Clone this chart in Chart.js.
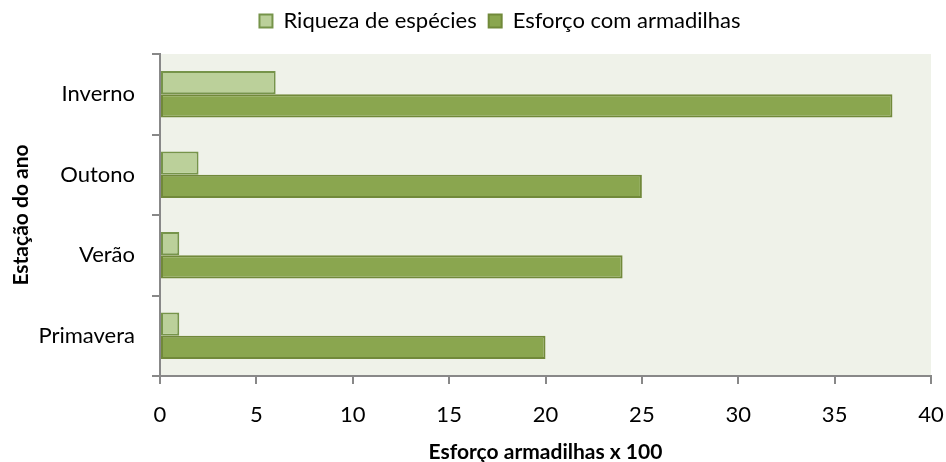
<!DOCTYPE html>
<html>
<head>
<meta charset="utf-8">
<script src="https://cdn.jsdelivr.net/npm/chart.js@4"></script>
<style>
  html, body { margin: 0; padding: 0; background: #fff; }
  #wrap { width: 946px; height: 462px; }
</style>
</head>
<body>
<div id="wrap"><canvas id="chart" width="946" height="462"></canvas></div>
<script>
// values
var estacoes = ['Inverno', 'Outono', 'Verão', 'Primavera'];
var riqueza = [6, 2, 1, 1];
var esforco = [38, 25, 24, 20];
var xTicks = [0, 5, 10, 15, 20, 25, 30, 35, 40];

var fontFam = "Lato, 'Open Sans', sans-serif";

// light plot background + nudge legend to where Excel put it
var plotBg = {
  id: 'plotBg',
  afterLayout: function (chart) {
    var lg = chart.legend;
    var dx = 500 - (lg.left + lg.right) / 2;
    lg.left += dx;
    lg.right += dx;
    lg.top -= 12;
    lg.bottom -= 12;
  },
  beforeDraw: function (chart) {
    var a = chart.chartArea;
    var ctx = chart.ctx;
    ctx.save();
    ctx.fillStyle = '#eff2e9';
    ctx.fillRect(a.left, a.top, a.right - a.left, a.bottom - a.top);
    ctx.restore();
  }
};

var ctx = document.getElementById('chart').getContext('2d');
var chart = new Chart(ctx, {
  type: 'bar',
  data: {
    labels: estacoes,
    datasets: [{
      label: 'Riqueza de espécies',
      data: riqueza,
      backgroundColor: '#bbd09a',
      borderColor: '#76944a',
      borderWidth: 2,
      borderSkipped: false
    }, {
      label: 'Esforço com armadilhas',
      data: esforco,
      backgroundColor: '#8aa64f',
      borderColor: '#71893a',
      borderWidth: 2,
      borderSkipped: false
    }]
  },
  options: {
    indexAxis: 'y',
    responsive: false,
    animation: false,
    layout: { padding: { left: 0, right: 0, top: 10, bottom: 0 } },
    datasets: {
      bar: { categoryPercentage: 0.58, barPercentage: 1.0 }
    },
    plugins: {
      tooltip: { enabled: false },
      legend: {
        position: 'top',
        align: 'center',
        labels: {
          font: { family: fontFam, size: 22 },
          color: '#000',
          boxWidth: 13,
          boxHeight: 13,
          padding: 12
        }
      }
    },
    scales: {
      x: {
        min: 0,
        max: 40,
        afterBuildTicks: function (s) {
          s.ticks = xTicks.map(function (v) { return { value: v }; });
        },
        afterFit: function (s) {
          s.height = 86;
          s.paddingRight = 15;
          s.paddingLeft = 0;
        },
        border: { color: '#888', width: 2 },
        grid: { display: true, drawOnChartArea: false, drawTicks: true, tickLength: 8, color: '#888', lineWidth: 2 },
        ticks: { font: { family: fontFam, size: 22 }, color: '#000', padding: 18, maxRotation: 0 },
        title: {
          display: true,
          text: 'Esforço armadilhas x 100',
          font: { family: fontFam, size: 21, weight: 'bold' },
          color: '#000',
          padding: { top: 6, bottom: -3 }
        }
      },
      y: {
        afterFit: function (s) { s.width = 160; },
        border: { color: '#888', width: 2 },
        grid: { display: true, drawOnChartArea: false, drawTicks: true, tickLength: 8, color: '#888', lineWidth: 2, offset: true },
        ticks: { font: { family: fontFam, size: 22 }, color: '#000', padding: 17 },
        title: {
          display: true,
          text: 'Estação do ano',
          font: { family: fontFam, size: 21, weight: 'bold' },
          color: '#000',
          padding: { top: 9, bottom: 6 }
        }
      }
    }
  },
  plugins: [plotBg]
});
</script>
</body>
</html>
